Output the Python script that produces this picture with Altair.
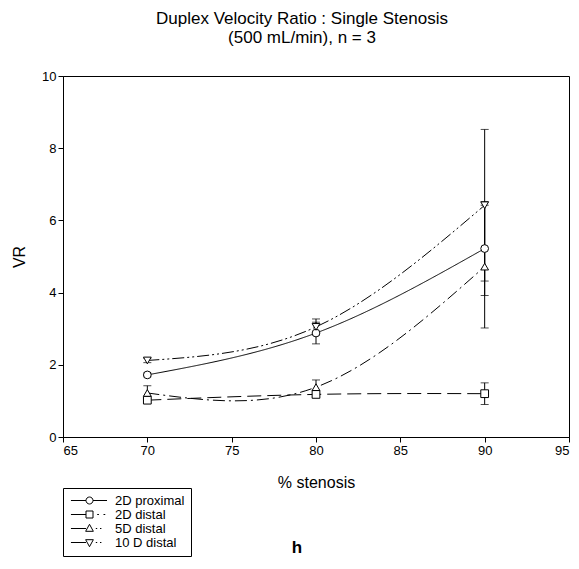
import altair as alt
import pandas as pd

stenosis = [70, 80, 90]
series_names = ["2D proximal", "2D distal", "5D distal", "10 D distal"]
vr_2d_proximal = [1.72, 2.88, 5.22]
err_2d_proximal = [0.05, 0.30, 1.30]
vr_2d_distal = [1.02, 1.18, 1.20]
err_2d_distal = [0.05, 0.08, 0.30]
vr_5d_distal = [1.22, 1.38, 4.72]
err_5d_distal = [0.20, 0.20, 1.70]
vr_10d_distal = [2.12, 3.05, 6.42]
err_10d_distal = [0.06, 0.22, 2.10]

x_ticks = [65, 70, 75, 80, 85, 90, 95]
y_ticks = [0, 2, 4, 6, 8, 10]

rows = []
for name, vals, errs in zip(series_names,
                            [vr_2d_proximal, vr_2d_distal, vr_5d_distal, vr_10d_distal],
                            [err_2d_proximal, err_2d_distal, err_5d_distal, err_10d_distal]):
    for x, v, e in zip(stenosis, vals, errs):
        rows.append({"series": name, "stenosis": x, "vr": v, "err": e})
df = pd.DataFrame(rows)

FONT = "Liberation Sans"

xenc = alt.X("stenosis:Q", scale=alt.Scale(domain=[65, 95], nice=False),
             axis=alt.Axis(values=x_ticks, title="% stenosis"))
yenc = alt.Y("vr:Q", scale=alt.Scale(domain=[0, 10], nice=False),
             axis=alt.Axis(values=y_ticks, title="VR"))

dash_scale = alt.Scale(domain=series_names,
                       range=[[1, 0], [14, 6], [12, 4, 2, 4], [12, 3, 2, 3, 2, 3]])

base = alt.Chart(df)

lines = base.mark_line(interpolate="natural", color="black", strokeWidth=1).encode(
    x=xenc, y=yenc,
    strokeDash=alt.StrokeDash("series:N", scale=dash_scale, legend=None),
    detail="series:N",
)

err = base.transform_calculate(lo="datum.vr - datum.err", hi="datum.vr + datum.err")

rules = err.mark_rule(color="black", strokeWidth=1).encode(
    x="stenosis:Q", y="lo:Q", y2="hi:Q")
caps_hi = err.mark_tick(color="black", orient="horizontal", size=8, thickness=1).encode(
    x="stenosis:Q", y="hi:Q")
caps_lo = err.mark_tick(color="black", orient="horizontal", size=8, thickness=1).encode(
    x="stenosis:Q", y="lo:Q")

points = base.mark_point(filled=True, fill="white", stroke="black", strokeWidth=1,
                         size=60, opacity=1).encode(
    x="stenosis:Q", y="vr:Q",
    shape=alt.Shape("series:N",
                    scale=alt.Scale(domain=series_names,
                                    range=["circle", "square", "triangle-up", "triangle-down"]),
                    legend=None),
)

legend_paths = [
    "M-1.3,0 L3,0 M5,0 A1,1 0 1,1 3,0 A1,1 0 1,1 5,0 Z M5,0 L9,0",
    "M-1.3,0 L3,0 M3,-1 L5,-1 L5,1 L3,1 Z M6.2,0 L6.7,0 M8,0 L8.5,0",
    "M-1.3,0 L3,0 M4,-1.2 L5.1,0.8 L2.9,0.8 Z M5.8,0 L6.2,0 M7,0 L7.4,0",
    "M-1.3,0 L3,0 M4,1.2 L5.1,-0.8 L2.9,-0.8 Z M5.8,0 L6.2,0 M7,0 L7.4,0",
]

legend_layer = base.transform_filter("false").mark_point(
    filled=False, color="black", strokeWidth=1, size=49).encode(
    x="stenosis:Q", y="vr:Q",
    shape=alt.Shape("series:N",
                    scale=alt.Scale(domain=series_names, range=legend_paths),
                    legend=alt.Legend(orient="none", legendX=0, legendY=412, title=None,
                                      strokeColor="black", padding=6, labelOffset=33,
                                      rowPadding=0, labelFontSize=13, labelFont=FONT,
                                      symbolSize=49,
                                      symbolStrokeColor="black", symbolFillColor="white",
                                      symbolStrokeWidth=1, symbolOpacity=1,
                                      fillColor="white", cornerRadius=0)),
)

h_label = alt.Chart(pd.DataFrame({"t": ["h"]})).mark_text(
    font=FONT, fontSize=17, fontWeight="bold", color="black", align="center",
    baseline="middle").encode(text="t:N", x=alt.value(234), y=alt.value(472))

chart = alt.layer(lines, rules, caps_hi, caps_lo, points, legend_layer, h_label).resolve_scale(
    shape="independent"
).properties(
    width=506, height=361,
    title=alt.TitleParams(["Duplex Velocity Ratio : Single Stenosis", "(500 mL/min), n = 3"],
                          font=FONT, fontSize=17, fontWeight="normal", anchor="middle",
                          frame="group", offset=23, lineHeight=19, color="black", dx=-14),
    autosize=alt.AutoSizeParams(type="none"),
    padding={"left": 63, "top": 76, "right": 10, "bottom": 132},
).configure_view(stroke="black", strokeWidth=1).configure_axis(
    grid=False, domainColor="black", tickColor="black", tickSize=5,
    labelFont=FONT, labelFontSize=13, labelColor="black",
    titleFont=FONT, titleFontSize=16, titleFontWeight="normal", titleColor="black",
).configure_axisY(titlePadding=14).configure_axisX(titlePadding=17)

chart.save("out.html", embed_options={"renderer": "svg", "actions": False})
